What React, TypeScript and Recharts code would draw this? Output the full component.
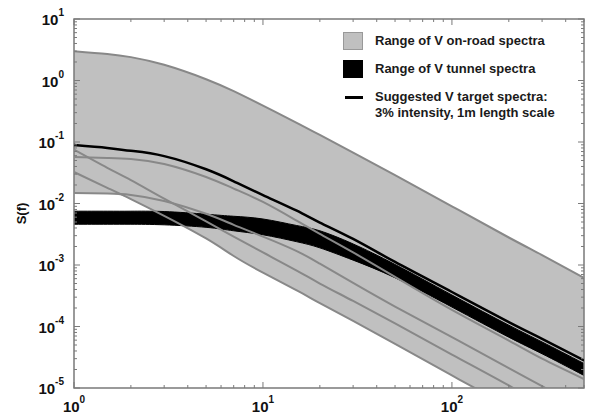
import {
  Area,
  ComposedChart,
  Line,
  ReferenceArea,
  XAxis,
  YAxis,
} from "recharts";

const frequency = [1, 1.5, 2, 3, 5, 7, 10, 15, 20, 30, 50, 100, 200, 300, 500];

// range of V on-road spectra (grey band)
const onRoadUpper = [3.0, 2.7, 2.4, 1.8, 1.05, 0.67, 0.39, 0.207, 0.13, 0.067, 0.029, 0.009, 0.0028, 0.00145, 0.00062];
const onRoadLower = [0.0148, 0.0145, 0.0118, 0.0063, 0.0027, 0.0014, 7.5e-4, 3.9e-4, 2.4e-4, 1.23e-4, 5.2e-5, 1.6e-5, 5.0e-6, 2.6e-6, 1.1e-6];

// individual on-road spectra drawn inside the band
const spectrumA = [0.075, 0.038, 0.024, 0.012, 0.0051, 0.0029, 0.0016, 8.2e-4, 5.0e-4, 2.6e-4, 1.12e-4, 3.5e-5, 1.1e-5, 5.3e-6, 2.2e-6];
const spectrumB = [0.057, 0.055, 0.053, 0.044, 0.027, 0.0175, 0.0106, 0.0053, 0.0032, 0.0016, 6.4e-4, 1.86e-4, 5.9e-5, 3.0e-5, 1.4e-5];
const spectrumC = [0.0325, 0.018, 0.0118, 0.0063, 0.0027, 0.0014, 7.5e-4, 3.9e-4, 2.4e-4, 1.23e-4, 5.2e-5, 1.6e-5, 5.0e-6, 2.6e-6, 1.1e-6];
const spectrumD = [0.0148, 0.0145, 0.0138, 0.011, 0.0068, 0.0045, 0.0029, 0.0017, 0.00105, 5.1e-4, 2.1e-4, 6.7e-5, 2.1e-5, 1.07e-5, 4.5e-6];

// range of V tunnel spectra (black band)
const tunnelUpper = [0.0075, 0.0075, 0.0075, 0.0074, 0.0067, 0.0062, 0.0056, 0.0044, 0.0036, 0.0022, 0.00102, 3.25e-4, 1.05e-4, 5.6e-5, 2.5e-5];
const tunnelLower = [0.0046, 0.0046, 0.0046, 0.0045, 0.0041, 0.0036, 0.0031, 0.0024, 0.0019, 0.0012, 6.2e-4, 2.07e-4, 6.7e-5, 3.6e-5, 1.6e-5];

// suggested V target spectrum: 3% intensity, 1m length scale
const target = [0.089, 0.08, 0.072, 0.059, 0.036, 0.023, 0.0137, 0.0077, 0.0049, 0.00265, 0.00112, 3.64e-4, 1.18e-4, 6.3e-5, 2.8e-5];

const xTicks = [1, 2, 3, 4, 5, 6, 7, 8, 9, 10, 20, 30, 40, 50, 60, 70, 80, 90, 100, 200, 300, 400, 500];
const yDecades = [1e-5, 1e-4, 1e-3, 1e-2, 1e-1, 1];
const yTicks = [...yDecades.flatMap((d) => [1, 2, 3, 4, 5, 6, 7, 8, 9].map((m) => m * d)), 10];

const rows = frequency.map((f, i) => ({
  f,
  road: [onRoadLower[i], onRoadUpper[i]],
  tunnel: [tunnelLower[i], tunnelUpper[i]],
  a: spectrumA[i],
  b: spectrumB[i],
  c: spectrumC[i],
  d: spectrumD[i],
  upper: onRoadUpper[i],
  target: target[i],
}));

const FONT = "'Liberation Sans', Arial, Helvetica, sans-serif";
const AXIS = "#7a7a7a";
const BAND = "#c0c0c0";
const LINE_GREY = "#888888";

const PLOT_TOP = 19;
const PLOT_BOTTOM = 388;
const PLOT_LEFT = 74;
const PLOT_RIGHT = 584;

function decadeOf(v: number) {
  const e = Math.round(Math.log10(v));
  return { e, major: Math.abs(Math.log10(v) - e) < 1e-6 };
}

function XTick({ x, payload }: any) {
  const { e, major } = decadeOf(payload.value);
  const len = major ? 6 : 3;
  return (
    <g>
      <line x1={x} x2={x} y1={PLOT_BOTTOM} y2={PLOT_BOTTOM - len} stroke={AXIS} />
      <line x1={x} x2={x} y1={PLOT_TOP} y2={PLOT_TOP + len} stroke={AXIS} />
      {major && (
        <text x={x} y={412} textAnchor="middle" fontFamily={FONT} fontWeight="bold" fontSize={15} fill="#111">
          10
          <tspan dy={-9} fontSize={10}>{e}</tspan>
        </text>
      )}
    </g>
  );
}

function YTick({ y, payload }: any) {
  const { e, major } = decadeOf(payload.value);
  const len = major ? 6 : 3;
  return (
    <g>
      <line x1={PLOT_LEFT} x2={PLOT_LEFT + len} y1={y} y2={y} stroke={AXIS} />
      <line x1={PLOT_RIGHT} x2={PLOT_RIGHT - len} y1={y} y2={y} stroke={AXIS} />
      {major && (
        <text x={64} y={y + 6} textAnchor="end" fontFamily={FONT} fontWeight="bold" fontSize={15} fill="#111">
          10
          <tspan dy={-9} fontSize={10}>{e}</tspan>
        </text>
      )}
    </g>
  );
}

const legendText: React.CSSProperties = {
  position: "absolute",
  left: 37,
  fontFamily: FONT,
  fontWeight: "bold",
  fontSize: 13,
  color: "#1a1a1a",
  whiteSpace: "nowrap",
  lineHeight: "16px",
};

function ChartLegend() {
  return (
    <div style={{ position: "absolute", left: 338, top: 28, width: 250, height: 96 }}>
      <div style={{ position: "absolute", left: 5, top: 4, width: 18, height: 16, background: BAND, border: "1px solid #999" }} />
      <div style={{ ...legendText, top: 5 }}>Range of V on-road spectra</div>
      <div style={{ position: "absolute", left: 5, top: 32, width: 20, height: 18, background: "#000" }} />
      <div style={{ ...legendText, top: 33 }}>Range of V tunnel spectra</div>
      <div style={{ position: "absolute", left: 7, top: 68, width: 18, height: 2.5, background: "#000" }} />
      <div style={{ ...legendText, top: 61 }}>Suggested V target spectra:</div>
      <div style={{ ...legendText, top: 77 }}>3% intensity, 1m length scale</div>
    </div>
  );
}

export default function App() {
  return (
    <div style={{ position: "absolute", left: 0, top: 0, width: 593, height: 416, background: "#fff" }}>
      <ComposedChart
        width={593}
        height={416}
        data={rows}
        margin={{ top: PLOT_TOP, right: 593 - PLOT_RIGHT, bottom: 0, left: 0 }}
      >
        <XAxis
          dataKey="f"
          type="number"
          scale="log"
          domain={[1, 500]}
          allowDataOverflow
          ticks={xTicks}
          interval={0}
          height={416 - PLOT_BOTTOM}
          axisLine={false}
          tickLine={false}
          tick={<XTick />}
        />
        <YAxis
          type="number"
          scale="log"
          domain={[1e-5, 10]}
          allowDataOverflow
          ticks={yTicks}
          interval={0}
          width={PLOT_LEFT}
          axisLine={false}
          tickLine={false}
          tick={<YTick />}
          label={{
            content: ({ viewBox }: any) => (
              <text
                x={viewBox.x + 26}
                y={viewBox.y + viewBox.height / 2 + 10}
                transform={`rotate(-90 ${viewBox.x + 26} ${viewBox.y + viewBox.height / 2 + 10})`}
                textAnchor="middle"
                fontFamily={FONT}
                fontWeight="bold"
                fontSize={13}
                fill="#111"
              >
                S(f)
              </text>
            ),
          }}
        />
        <Area dataKey="road" type="natural" fill={BAND} fillOpacity={1} stroke="none" isAnimationActive={false} />
        <Line dataKey="upper" type="natural" stroke={LINE_GREY} strokeWidth={2} dot={false} activeDot={false} isAnimationActive={false} />
        <Line dataKey="a" type="natural" stroke={LINE_GREY} strokeWidth={2} dot={false} activeDot={false} isAnimationActive={false} />
        <Line dataKey="b" type="natural" stroke={LINE_GREY} strokeWidth={2} dot={false} activeDot={false} isAnimationActive={false} />
        <Line dataKey="c" type="natural" stroke={LINE_GREY} strokeWidth={2} dot={false} activeDot={false} isAnimationActive={false} />
        <Line dataKey="d" type="natural" stroke={LINE_GREY} strokeWidth={2} dot={false} activeDot={false} isAnimationActive={false} />
        <Area dataKey="tunnel" type="natural" fill="#000" fillOpacity={1} stroke="#000" strokeWidth={1} isAnimationActive={false} />
        <Line dataKey="target" type="natural" stroke="#000" strokeWidth={2.5} dot={false} activeDot={false} isAnimationActive={false} />
        <ReferenceArea x1={1} x2={500} y1={1e-5} y2={10} fill="none" stroke={AXIS} strokeWidth={1.5} ifOverflow="visible" />
      </ComposedChart>
      <ChartLegend />
    </div>
  );
}
